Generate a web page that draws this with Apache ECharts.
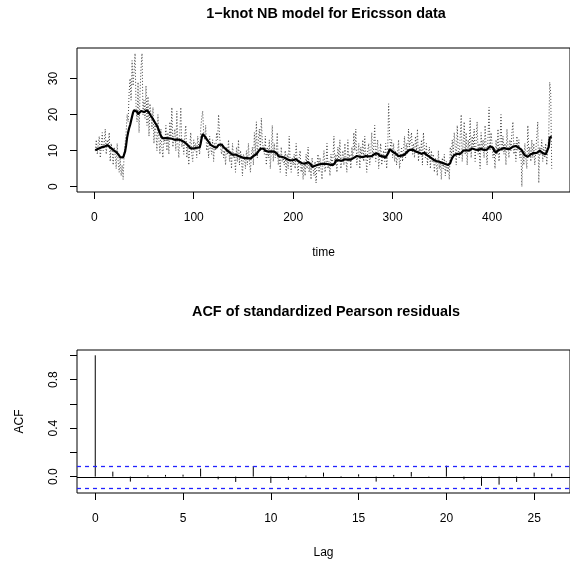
<!DOCTYPE html>
<html><head><meta charset="utf-8">
<script src="https://cdn.jsdelivr.net/npm/echarts@6/dist/echarts.min.js"></script>
<style>html,body{margin:0;padding:0;background:#fff}#c{width:570px;height:562px}</style>
</head><body><div id="c"></div>
<script>
// observed counts (dotted line), t = 1..460
const observed = [
10,13,9,12,14,8,11,15,10,12,
16,9,13,11,15,7,12,10,6,11,
9,5,12,7,4,8,3,6,2,9,
12,15,20,18,26,30,24,35,28,32,
37,22,18,29,15,26,33,37,20,24,
19,28,17,25,14,23,20,16,22,12,
18,15,10,20,13,9,16,11,8,14,
12,17,10,15,9,18,13,22,11,14,
16,10,21,12,8,15,22,11,13,9,
14,17,8,12,6,11,15,9,7,13,
10,12,8,14,11,9,16,19,21,15,
13,17,10,12,8,14,11,9,13,7,
12,10,15,13,20,14,11,9,12,8,
10,6,11,9,13,7,10,5,12,8,
9,4,11,7,13,6,10,8,3,9,
8,5,10,6,12,7,4,9,11,6,
15,9,18,8,13,16,10,19,12,11,
9,14,6,11,8,13,5,10,17,7,
12,8,10,15,6,9,4,11,7,8,
6,10,3,9,5,14,7,4,8,6,
9,5,12,7,3,8,10,4,6,2,
7,3,9,5,11,4,6,2,8,5,
3,7,1,6,9,4,8,5,2,7,
10,4,6,12,5,7,3,9,6,8,
14,6,9,4,11,7,13,5,8,10,
6,12,8,4,13,7,9,5,11,8,
15,10,16,6,9,12,5,11,8,13,
7,14,9,4,10,12,6,9,15,8,
11,17,7,10,13,5,9,12,6,8,
10,7,12,5,9,23,14,11,13,8,
12,7,10,6,9,13,5,8,11,7,
10,14,8,12,9,16,11,13,15,9,
12,8,14,10,16,7,11,9,13,6,
15,10,8,12,6,9,11,5,10,7,
9,4,8,6,3,10,5,7,2,8,
5,9,3,7,4,6,2,11,8,13,
9,15,11,6,17,10,8,14,20,7,
12,18,9,15,6,13,10,19,8,14,
11,16,7,13,18,9,12,5,15,10,
13,8,17,11,6,14,22,10,15,12,
8,11,5,13,9,16,7,12,20,10,
14,9,12,6,16,11,8,13,10,15,
18,9,12,7,14,10,13,8,11,0,
10,6,12,8,5,17,9,11,7,13,
8,12,6,10,14,18,1,11,9,13,
7,11,8,12,6,10,14,29,26,5
];
// fitted means (thick line), t = 1..460
const fitted = [
10.1,10.3,10.2,10.5,10.7,10.6,10.9,11.0,10.8,11.1,
11.3,11.2,11.5,11.4,11.1,10.9,10.6,10.4,10.2,10.0,
9.8,9.6,9.4,9.0,8.6,8.2,7.9,7.8,8.1,8.5,
9.8,11.5,13.6,15.0,16.2,17.1,18.3,19.5,20.6,21.2,
21.5,21.3,20.8,20.1,19.6,20.4,21.0,21.3,21.0,20.7,
20.6,20.9,21.2,21.0,20.5,20.0,19.6,19.2,18.8,18.3,
17.8,17.3,16.9,16.3,15.6,14.8,14.1,13.6,13.4,13.5,
13.7,13.5,13.3,13.6,13.4,13.2,13.5,13.3,13.1,13.4,
13.0,13.2,12.9,13.1,12.8,12.6,12.9,12.7,12.4,12.5,
12.2,12.0,11.8,11.5,11.2,10.9,10.6,10.4,10.3,10.6,
10.9,10.7,10.8,11.0,10.8,10.9,12.0,13.5,14.6,14.4,
14.0,13.6,13.2,12.9,12.4,11.9,11.6,11.3,11.5,11.1,
10.9,11.0,10.8,11.2,11.6,11.8,12.0,11.7,11.3,11.0,
10.8,10.5,10.2,10.0,9.7,9.5,9.3,9.1,8.9,8.8,
8.7,8.9,8.6,8.5,8.5,8.3,8.4,8.2,8.0,8.1,
7.9,8.0,7.8,7.9,8.1,7.9,7.8,7.9,8.2,8.5,
8.7,8.8,9.0,9.4,9.8,10.2,10.5,10.7,10.8,10.6,
10.3,10.0,9.9,9.8,9.7,9.9,9.6,9.8,9.7,9.5,
9.7,9.6,9.6,9.1,8.5,8.6,8.4,8.3,8.2,8.2,
8.1,7.9,7.8,7.6,7.5,7.4,7.3,7.1,7.2,7.4,
7.5,7.6,7.6,7.3,7.1,6.9,6.8,6.7,6.5,6.0,
6.2,6.4,6.6,6.7,6.8,6.7,6.4,6.1,5.5,5.8,
5.7,5.8,5.9,6.0,6.1,6.2,6.2,6.3,6.3,6.4,
6.3,6.1,6.2,6.3,6.1,6.2,6.1,6.0,5.9,6.0,
6.0,6.6,7.3,7.2,7.1,7.3,7.2,7.1,7.2,7.4,
7.5,7.6,7.5,7.6,7.5,7.4,7.6,7.5,7.5,7.8,
8.0,8.2,8.4,8.5,8.7,8.5,8.3,8.2,8.1,8.2,
8.3,8.4,8.5,8.5,8.6,8.4,8.5,8.6,8.5,8.7,
8.9,9.1,9.3,9.4,9.2,8.9,8.6,8.4,8.3,8.4,
8.2,8.3,8.1,8.2,8.1,9.5,10.4,10.3,10.0,9.7,
9.5,9.4,9.2,8.9,8.7,8.5,8.3,8.4,8.6,8.7,
8.8,8.9,9.2,9.5,9.8,10.0,10.2,10.3,10.4,10.3,
10.1,10.0,9.8,9.9,9.7,9.5,9.3,9.2,9.1,9.2,
9.3,9.4,9.2,9.0,8.7,8.5,8.3,8.1,7.9,7.7,
7.5,7.3,7.2,7.1,7.0,6.9,6.9,6.8,6.7,6.6,
6.5,6.4,6.3,6.2,6.1,6.0,6.0,6.6,7.4,8.0,
8.5,8.8,9.0,9.2,9.1,9.3,9.2,9.1,9.2,9.6,
10.0,10.4,10.2,10.1,10.3,10.0,10.0,10.3,10.5,10.6,
10.7,10.5,10.3,10.4,10.2,10.2,10.4,10.3,10.5,10.4,
10.4,10.2,10.3,10.1,10.3,10.2,10.7,11.2,11.6,11.6,
10.8,10.1,9.7,9.4,9.8,10.1,10.3,10.2,10.4,10.5,
10.6,10.7,10.9,10.8,10.5,10.3,10.2,10.5,10.8,11.0,
11.1,11.2,11.3,11.3,11.1,10.9,10.8,10.7,10.7,10.1,
9.5,9.0,8.7,8.5,8.4,8.3,8.3,8.6,9.0,9.2,
9.4,9.3,9.2,9.1,9.4,9.7,9.9,10.0,10.1,9.6,
9.3,9.1,9.2,9.0,9.1,9.2,11.0,13.6,13.5,13.9
];
const timeTicks = [0, 100, 200, 300, 400];
const countTicks = [0, 10, 20, 30];

const acfLags = [0,1,2,3,4,5,6,7,8,9,10,11,12,13,14,15,16,17,18,19,20,21,22,23,24,25,26];
const acfValues = [1, 0.041, -0.041, 0.010, 0.014, 0.016, 0.066, -0.022, -0.044, 0.087,
  -0.052, -0.027, 0.008, 0.033, 0.005, 0.019, -0.041, 0.014, 0.038, -0.011,
  0.090, -0.022, -0.076, -0.066, -0.044, 0.033, 0.025];
const acfBounds = [0.0914, -0.0914];
const acfZero = [0];
const lagTicks = [0, 5, 10, 15, 20, 25];
const acfTicks = [0, 0.2, 0.4, 0.6, 0.8, 1.0];
const acfTickLabels = [0, 0.4, 0.8];

const FONT = 'Liberation Sans, Arial, Helvetica, sans-serif';
const chart = echarts.init(document.getElementById('c'), null, {renderer: 'canvas'});

const obsData = observed.map((v, i) => [i + 1, v]);
const fitData = fitted.map((v, i) => [i + 1, v]);
const acfData = acfLags.map((l, i) => [l, acfValues[i]]);

const axisCommon = {
  axisLine: {show: false, onZero: false},
  splitLine: {show: false},
  axisTick: {show: true, inside: false, length: 7, lineStyle: {color: '#000', width: 1}},
  axisLabel: {color: '#000', fontSize: 12, fontFamily: FONT}
};

// horizontal reference line across the whole grid at a y value
function hLine(color, dash, width) {
  return function (params, api) {
    const cs = params.coordSys;
    const y = Math.round(api.coord([0, api.value(0)])[1]) + 0.5;
    return {type: 'line', shape: {x1: cs.x, y1: y, x2: cs.x + cs.width, y2: y},
            style: {stroke: color, fill: null, lineWidth: width, lineDash: dash}};
  };
}

chart.setOption({
  animation: false,
  backgroundColor: '#fff',
  textStyle: {fontFamily: FONT},
  title: [
    {text: '1−knot NB model for Ericsson data', left: 326, top: 7, textAlign: 'center', padding: 0,
     textStyle: {fontSize: 14.4, fontWeight: 'bold', color: '#000', fontFamily: FONT}},
    {text: 'ACF of standardized Pearson residuals', left: 326, top: 305, textAlign: 'center', padding: 0,
     textStyle: {fontSize: 14.4, fontWeight: 'bold', color: '#000', fontFamily: FONT}}
  ],
  grid: [
    {left: 77, top: 48, width: 498, height: 144, show: true, borderColor: '#000', borderWidth: 1, backgroundColor: 'transparent', containLabel: false},
    {left: 77, top: 350, width: 498, height: 143, show: true, borderColor: '#000', borderWidth: 1, backgroundColor: 'transparent', containLabel: false}
  ],
  xAxis: [
    Object.assign({}, axisCommon, {
      type: 'value', gridIndex: 0, min: -17.4, max: 478.4,
      name: 'time', nameLocation: 'middle', nameGap: 55,
      nameTextStyle: {color: '#000', fontSize: 12, fontFamily: FONT},
      axisTick: Object.assign({}, axisCommon.axisTick, {customValues: timeTicks}),
      axisLabel: Object.assign({}, axisCommon.axisLabel, {customValues: timeTicks, margin: 20, formatter: v => String(v)})
    }),
    Object.assign({}, axisCommon, {
      type: 'value', gridIndex: 1, min: -1.04, max: 27.04,
      name: 'Lag', nameLocation: 'middle', nameGap: 54,
      nameTextStyle: {color: '#000', fontSize: 12, fontFamily: FONT},
      axisTick: Object.assign({}, axisCommon.axisTick, {customValues: lagTicks}),
      axisLabel: Object.assign({}, axisCommon.axisLabel, {customValues: lagTicks, margin: 20, formatter: v => String(v)})
    })
  ],
  yAxis: [
    Object.assign({}, axisCommon, {
      type: 'value', gridIndex: 0, min: -1.48, max: 38.48,
      axisTick: Object.assign({}, axisCommon.axisTick, {customValues: countTicks}),
      axisLabel: Object.assign({}, axisCommon.axisLabel, {customValues: countTicks, rotate: 90, margin: 17, formatter: v => String(v)})
    }),
    Object.assign({}, axisCommon, {
      type: 'value', gridIndex: 1, min: -0.135, max: 1.0437,
      name: 'ACF', nameLocation: 'middle', nameGap: 51, nameRotate: 90,
      nameTextStyle: {color: '#000', fontSize: 12, fontFamily: FONT},
      axisTick: Object.assign({}, axisCommon.axisTick, {customValues: acfTicks}),
      axisLabel: Object.assign({}, axisCommon.axisLabel, {customValues: acfTickLabels, rotate: 90, margin: 17, formatter: v => v.toFixed(1)})
    })
  ],
  series: [
    {type: 'line', xAxisIndex: 0, yAxisIndex: 0, data: obsData, showSymbol: false, symbol: 'none',
     lineStyle: {color: '#444', width: 1, type: [1, 2]}, z: 2},
    {type: 'line', xAxisIndex: 0, yAxisIndex: 0, data: fitData, showSymbol: false, symbol: 'none',
     lineStyle: {color: '#000', width: 2.2}, z: 3},
    {type: 'custom', xAxisIndex: 1, yAxisIndex: 1, data: acfData,
     renderItem: function (params, api) {
       const p0 = api.coord([api.value(0), 0]);
       const p1 = api.coord([api.value(0), api.value(1)]);
       return {type: 'line', shape: {x1: p0[0], y1: p0[1], x2: p1[0], y2: p1[1]},
               style: {stroke: '#000', lineWidth: 1}};
     }, z: 3},
    {type: 'custom', xAxisIndex: 1, yAxisIndex: 1, data: acfZero, silent: true,
     encode: {y: 0}, renderItem: hLine('#000', null, 1), z: 3},
    {type: 'custom', xAxisIndex: 1, yAxisIndex: 1, data: acfBounds, silent: true,
     itemStyle: {color: '#2222FF'},
     encode: {y: 0}, renderItem: hLine('#2222FF', [4, 4], 1.3), z: 4}
  ]
});
</script>
</body></html>
